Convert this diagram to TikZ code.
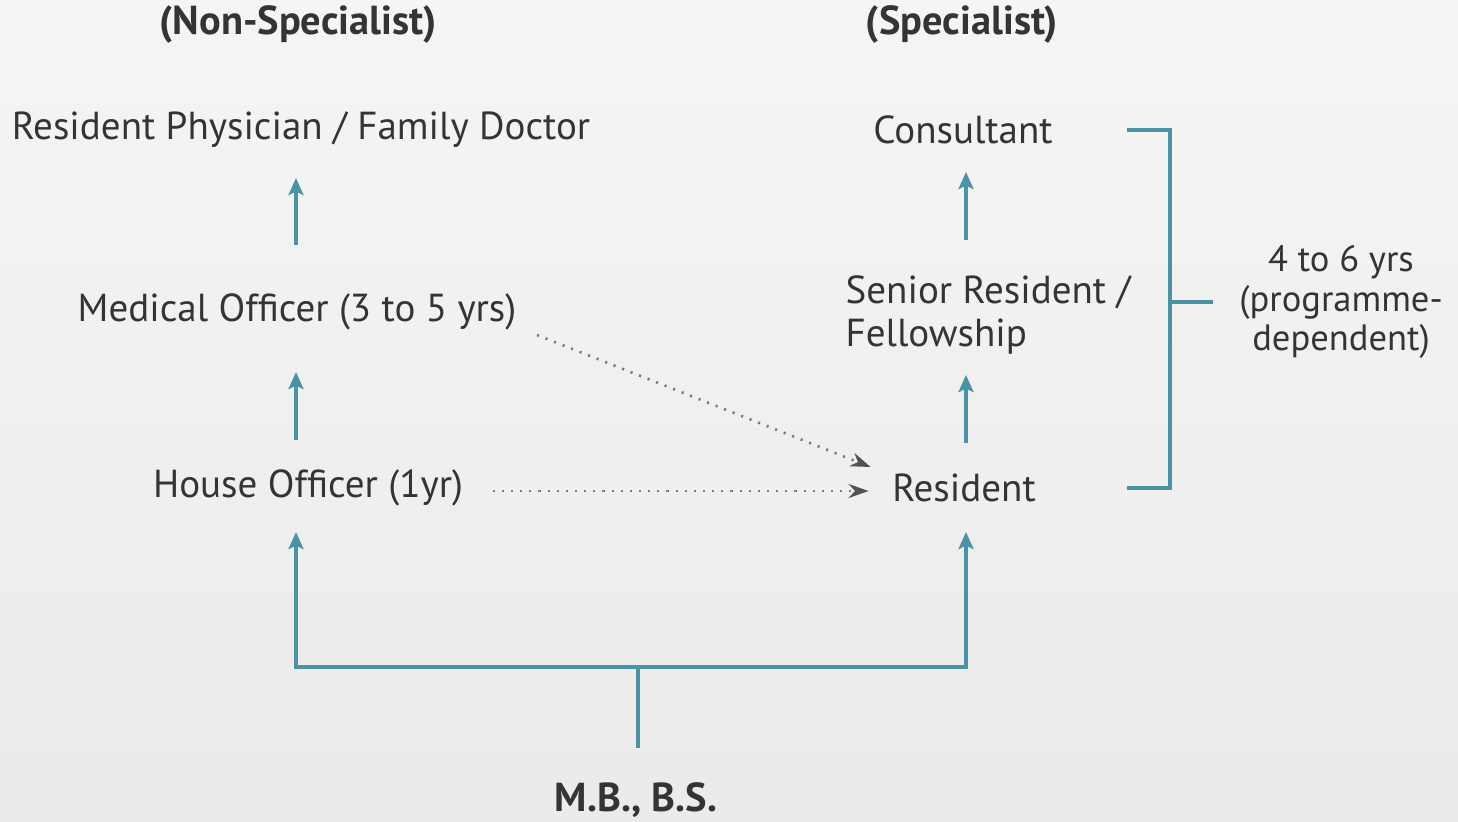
\documentclass[tikz,border=0pt]{standalone}
\usepackage{fontspec}
\setmainfont{PT Sans}
\usetikzlibrary{arrows.meta,positioning}
\definecolor{pathteal}{RGB}{74,146,166}
\definecolor{ink}{RGB}{52,52,52}
\definecolor{dotbrown}{RGB}{150,112,106}
\tikzset{
  lbl/.style={text=ink,inner sep=0pt,font=\fontsize{11.1}{12.5}\selectfont},
  head/.style={lbl,font=\fontsize{11.5}{13}\selectfont\bfseries},
  link/.style={draw=pathteal,line width=1.1pt},
  up/.style={link,-{Stealth[length=1.7mm,width=1.5mm,inset=0.35mm]}},
  dotarrow/.style={draw=dotbrown,line width=0.75pt,dash pattern=on 0.6pt off 2pt,
    -{Stealth[length=2mm,width=1.4mm,color=ink!85]}}
}
\begin{document}
\begin{tikzpicture}[x=0.01cm,y=-0.01cm]
  \shade[top color=black!4,middle color=white,bottom color=black!8] (0,0) rectangle (1458,821);
  \useasboundingbox (0,0) rectangle (1458,821);
  \coordinate (colL) at (296,0);
  \coordinate (colR) at (966,0);
  \coordinate (split) at (638,667);
  \coordinate (brk) at (1127,0);
  \coordinate (brkx) at (1170,0);

  \node[head] (nonspec) at (298,25) {(Non-Specialist)};
  \node[head] (spec) at (962,25) {(Specialist)};
  \node[lbl] (rp) at (301,130) {Resident Physician / Family Doctor};
  \node[lbl] (con) at (963,130) {Consultant};
  \node[lbl] (mo) at (297,312) {Medical Officer (3 to 5 yrs)};
  \node[lbl,align=left] (sr) at (988,315) {Senior Resident /\\Fellowship};
  \node[lbl] (ho) at (308,488) {House Officer (1yr)};
  \node[lbl] (res) at (964,488) {Resident};
  \node[head] (mbbs) at (636,800) {M.B., B.S.};
  \node[lbl,align=center,font=\fontsize{10.4}{11.2}\selectfont] (dur) at (1341,302)
    {4 to 6 yrs\\(programme-\\dependent)};

  \draw[up,shorten <=4.8mm,shorten >=6mm] (ho.center -| colL) -- (mo.center -| colL);
  \draw[up,shorten <=6.7mm,shorten >=4.8mm] (mo.center -| colL) -- (rp.center -| colL);
  \draw[up,shorten <=4.5mm,shorten >=6mm] (res.center -| colR) -- (sr.center -| colR);
  \draw[up,shorten <=7.5mm,shorten >=4.2mm] (sr.center -| colR) -- (con.center -| colR);

  \draw[link,shorten <=5.2mm] (mbbs.center -| split) -- (split);
  \draw[up,shorten >=4.4mm] (split) -| (ho.center -| colL);
  \draw[up,shorten >=4.4mm] (split) -| (res.center -| colR);

  \draw[link] (con.center -| brk) -| (brkx |- res.center) -- (res.center -| brk);
  \draw[link] (brkx |- dur.center) -- ++(43,0);

  \draw[dotarrow] ([shift={(20,23)}]mo.east) -- ([shift={(-21,-21)}]res.west);
  \draw[dotarrow] ([shift={(29,3)}]ho.east) -- ([shift={(-23,3)}]res.west);
\end{tikzpicture}
\end{document}
